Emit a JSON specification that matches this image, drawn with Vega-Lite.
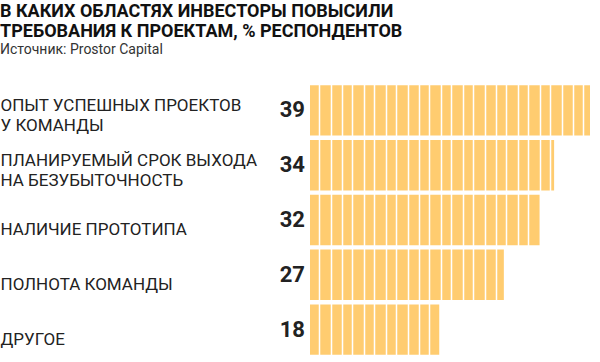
{
  "$schema": "https://vega.github.io/schema/vega-lite/v6.json",
  "width": 280,
  "height": 274,
  "padding": {"left": 0, "top": 3, "right": 0, "bottom": 0},
  "background": "white",
  "title": {
    "text": ["В КАКИХ ОБЛАСТЯХ ИНВЕСТОРЫ ПОВЫСИЛИ", "ТРЕБОВАНИЯ К ПРОЕКТАМ, % РЕСПОНДЕНТОВ"],
    "subtitle": "Источник: Prostor Capital",
    "anchor": "start",
    "frame": "bounds",
    "font": "Roboto",
    "fontSize": 18,
    "fontWeight": "bold",
    "lineHeight": 20,
    "color": "#111111",
    "subtitleFont": "Roboto",
    "subtitleFontSize": 14,
    "subtitleColor": "#333333",
    "subtitlePadding": 2,
    "offset": 26
  },
  "data": {
    "values": [
      {"cat": "ОПЫТ УСПЕШНЫХ ПРОЕКТОВ|У КОМАНДЫ", "value": 39},
      {"cat": "ПЛАНИРУЕМЫЙ СРОК ВЫХОДА|НА БЕЗУБЫТОЧНОСТЬ", "value": 34},
      {"cat": "НАЛИЧИЕ ПРОТОТИПА", "value": 32},
      {"cat": "ПОЛНОТА КОМАНДЫ", "value": 27},
      {"cat": "ДРУГОЕ", "value": 18}
    ]
  },
  "encoding": {
    "y": {
      "field": "cat",
      "type": "nominal",
      "sort": null,
      "scale": {"paddingInner": 0.08, "paddingOuter": 0.04},
      "axis": {
        "title": null,
        "domain": false,
        "ticks": false,
        "tickSize": 0,
        "labelAlign": "left",
        "labelBaseline": "middle",
        "labelPadding": 310,
        "labelFont": "Roboto",
        "labelFontSize": 17,
        "labelColor": "#222222",
        "labelLineHeight": 20,
        "labelLimit": 300,
        "labelExpr": "split(datum.label, '|')",
        "labelOffset": {"condition": {"test": "indexof(datum.value, '|') < 0", "value": 10}, "value": -4}
      }
    }
  },
  "layer": [
    {
      "mark": {"type": "bar", "color": "#FFCC70"},
      "encoding": {
        "x": {
          "field": "value",
          "type": "quantitative",
          "scale": {"domain": [0, 39], "nice": false, "zero": true},
          "axis": {
            "title": null,
            "labels": false,
            "ticks": false,
            "domain": false,
            "grid": true,
            "gridColor": "white",
            "gridWidth": 1.5,
            "gridOpacity": 1,
            "zindex": 1,
            "tickCount": 100,
            "values": [1.3232, 2.8554, 4.3875, 5.9196, 7.4518, 8.9839, 10.5161, 12.0482, 13.5804, 15.1125, 16.6446, 18.1768, 19.7089, 21.2411, 22.7732, 24.3054, 25.8375, 27.3696, 28.9018, 30.4339, 31.9661, 33.4982, 35.0304, 36.5625, 38.0946]
          }
        }
      }
    },
    {
      "mark": {"type": "text", "align": "right", "baseline": "middle", "dx": -5, "font": "Roboto", "fontSize": 22, "fontWeight": "bold", "color": "#222222"},
      "encoding": {
        "x": {"datum": 0, "type": "quantitative"},
        "text": {"field": "value", "type": "quantitative"}
      }
    }
  ],
  "config": {"view": {"stroke": null}}
}
